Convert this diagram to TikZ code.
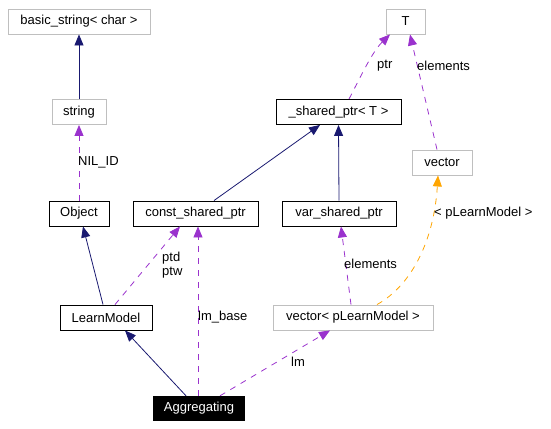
\documentclass[tikz,border=0pt]{standalone}
\usepackage{fontspec}
\setmainfont{Liberation Sans}
\usetikzlibrary{arrows.meta}
\definecolor{navyc}{HTML}{191970}
\definecolor{purpc}{HTML}{9A32CD}
\definecolor{orangc}{HTML}{FFA500}
\definecolor{grayb}{HTML}{BFBFBF}
\begin{document}
\begin{tikzpicture}[x=1pt,y=-1pt,
  every node/.style={font=\fontsize{13}{15}\selectfont},
  cls/.style={draw=black,line width=0.9pt,inner sep=0pt,minimum height=25pt},
  ext/.style={draw=grayb,line width=0.9pt,inner sep=0pt,minimum height=25pt},
  main/.style={fill=black,text=white,inner sep=0pt,minimum height=25pt},
  lbl/.style={anchor=west,inner sep=0pt},
  inh/.style={draw=navyc,line width=0.8pt,arrows={-{Triangle[fill=navyc,length=11pt,width=9pt]}}},
  use/.style={draw=purpc,line width=0.8pt,dash pattern=on 6pt off 6pt,arrows={-{Triangle[fill=purpc,length=11pt,width=9pt]}}},
  tmpl/.style={draw=orangc,line width=0.8pt,dash pattern=on 6pt off 6pt,arrows={-{Triangle[fill=orangc,length=11pt,width=9pt]}}}]
\useasboundingbox (0,0) rectangle (551,428);
% nodes
\node[ext,minimum width=142pt] (bs) at (79,21.5) {basic\_string< char >};
\node[ext,minimum width=54pt] (str) at (79,112) {string};
\node[cls,minimum width=60pt] (obj) at (79,213.5) {Object};
\node[cls,minimum width=125pt] (csp) at (195.5,213.5) {const\_shared\_ptr};
\node[cls,minimum width=125pt] (sp) at (338.5,112) {\_shared\_ptr< T >};
\node[ext,minimum width=39pt] (T) at (405.5,21.5) {T};
\node[ext,minimum width=60pt] (vec) at (442,162.5) {vector};
\node[cls,minimum width=114pt] (vsp) at (339,213.5) {var\_shared\_ptr};
\node[cls,minimum width=92pt] (lm) at (106,317.5) {LearnModel};
\node[ext,minimum width=160pt] (vpl) at (353,317.5) {vector< pLearnModel >};
\node[main,minimum width=92pt] (agg) at (199,408.5) {Aggregating};
% edges
\draw[inh] (str.north) -- (bs.south);
\draw[use] (obj.north) -- (str.south);
\draw[inh] ([xshift=18.5pt]csp.north) -- ([xshift=-18.5pt]sp.south);
\draw[inh] (vsp.north) -- (sp.south);
\draw[use] ([xshift=10.5pt]sp.north) .. controls (360,78) and (372,52) .. ([xshift=-15.5pt]T.south);
\draw[use] ([xshift=-5pt]vec.north) -- ([xshift=4.5pt]T.south);
\draw[tmpl] ([xshift=24pt]vpl.north) .. controls (412,285) and (434,240) .. ([xshift=-4pt]vec.south);
\draw[use] ([xshift=-2pt]vpl.north) -- ([xshift=2pt]vsp.south);
\draw[inh] ([xshift=-3pt]lm.north) -- ([xshift=4pt]obj.south);
\draw[use] ([xshift=9pt]lm.north) -- ([xshift=-15.5pt]csp.south);
\draw[inh] ([xshift=-13pt]agg.north) -- ([xshift=19pt]lm.south);
\draw[use] ([xshift=-1pt]agg.north) -- ([xshift=2.5pt]csp.south);
\draw[use] ([xshift=21pt]agg.north) -- ([xshift=-23pt]vpl.south);
% labels
\node[lbl] (l1) at (78,162) {NIL\_ID};
\node[lbl] (l2) at (377,66) {ptr};
\node[lbl] (l3) at (417,66) {elements};
\node[lbl] (l4) at (434,213) {< pLearnModel >};
\node[lbl] (l5) at (344,264) {elements};
\node[lbl] (l6) at (162,258) {ptd};
\node[lbl] (l7) at (162,273) {ptw};
\node[lbl] (l8) at (198,317) {lm\_base};
\node[lbl] (l9) at (291,362) {lm};
\end{tikzpicture}
\end{document}
